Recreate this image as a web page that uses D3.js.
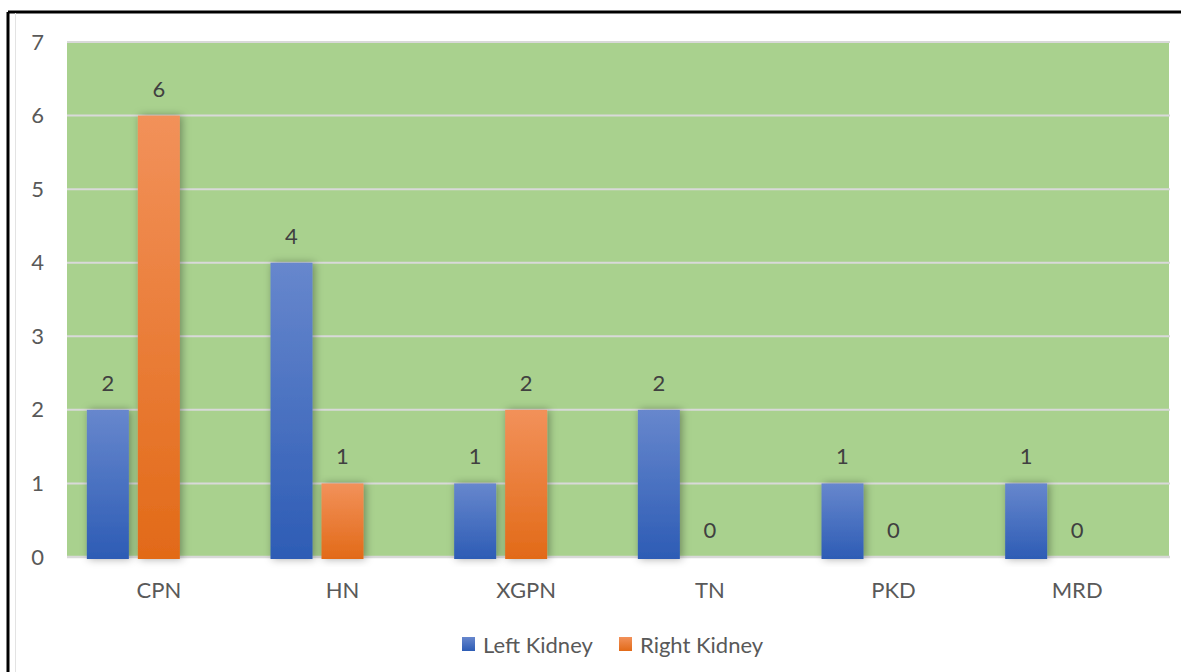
<!DOCTYPE html>
<html><head><meta charset="utf-8">
<script src="https://cdn.jsdelivr.net/npm/d3@7"></script>
<style>
html,body{margin:0;padding:0;background:#fff;}
svg{display:block;}
text{font-family:Lato,"Open Sans",sans-serif;}
</style></head>
<body>
<svg id="chart" width="1181" height="672"></svg>
<script>
const categories = ["CPN","HN","XGPN","TN","PKD","MRD"];
const seriesNames = ["Left Kidney","Right Kidney"];
const leftKidney = [2,4,1,2,1,1];
const rightKidney = [6,1,2,0,0,0];
const yTicks = [0,1,2,3,4,5,6,7];

const W = 1181, H = 672;
const svg = d3.select("#chart");
const FS = 22;

// outer border
svg.append("line").attr("x1",8).attr("x2",W).attr("y1",12).attr("y2",12).attr("stroke","#000").attr("stroke-width",3);
svg.append("line").attr("x1",8).attr("x2",8).attr("y1",12).attr("y2",H).attr("stroke","#000").attr("stroke-width",3);
svg.append("line").attr("x1",15.5).attr("x2",15.5).attr("y1",13).attr("y2",H).attr("stroke","#e3e3e3").attr("stroke-width",1);

const x0 = d3.scaleBand().domain(categories).range([67,1169]).paddingInner(0.216).paddingOuter(0.108);
const x1 = d3.scaleBand().domain(["L","R","_"]).range([0,x0.bandwidth()]).paddingInner(0.176);
const y = d3.scaleLinear().domain([0,7]).range([557,42]);

const defs = svg.append("defs");
function grad(id, top, bot){
  const g = defs.append("linearGradient").attr("id",id).attr("x1",0).attr("x2",0).attr("y1",0).attr("y2",1);
  g.append("stop").attr("offset","0%").attr("stop-color",top);
  g.append("stop").attr("offset","100%").attr("stop-color",bot);
}
grad("gBlue","#6787cd","#2d5cb5");
grad("gOrange","#f2915a","#e26a18");
const f = defs.append("filter").attr("id","shadow").attr("x","-50%").attr("y","-10%").attr("width","200%").attr("height","120%");
f.append("feDropShadow").attr("dx",2).attr("dy",0).attr("stdDeviation",4).attr("flood-color","#000").attr("flood-opacity",0.35);

// plot background
svg.append("rect").attr("x",67).attr("y",42).attr("width",1169-67).attr("height",557-42).attr("fill","#a9d18e");

// gridlines
svg.append("g").selectAll("line").data(yTicks).join("line")
  .attr("x1",67).attr("x2",1170).attr("y1",d=>y(d)).attr("y2",d=>y(d))
  .attr("stroke","#d9d9d9").attr("stroke-width",d=>d===0?2.5:2);

// y axis labels
const yAxis = d3.axisLeft(y).tickValues(yTicks).tickSize(0).tickPadding(0).tickFormat(d3.format("d"));
const ya = svg.append("g").attr("transform","translate(44,0)").call(yAxis);
ya.select(".domain").remove();
ya.selectAll("text").attr("font-size",FS).attr("fill","#595959").attr("font-family","Lato,sans-serif");

// x axis labels
const xAxis = d3.axisBottom(x0).tickSize(0).tickPadding(0);
const xa = svg.append("g").attr("transform","translate(0,582)").call(xAxis);
xa.select(".domain").remove();
xa.selectAll("text").attr("font-size",FS).attr("fill","#595959").attr("font-family","Lato,sans-serif").attr("dy","0.71em");

// bars
const rows = categories.map((c,i)=>({cat:c, vals:[{k:"L",v:leftKidney[i]},{k:"R",v:rightKidney[i]}]}));
const groups = svg.append("g").selectAll("g").data(rows).join("g").attr("transform",d=>`translate(${x0(d.cat)},0)`);
groups.selectAll("rect").data(d=>d.vals.filter(v=>v.v>0)).join("rect")
  .attr("x",d=>x1(d.k)).attr("width",x1.bandwidth())
  .attr("y",d=>y(d.v)).attr("height",d=>y(0)-y(d.v)+2)
  .attr("fill",d=>d.k==="L"?"url(#gBlue)":"url(#gOrange)")
  .attr("filter","url(#shadow)");
groups.selectAll("text").data(d=>d.vals).join("text")
  .attr("x",d=>x1(d.k)+x1.bandwidth()/2).attr("y",d=>y(d.v)-19)
  .attr("text-anchor","middle").attr("font-size",FS).attr("fill","#404040")
  .text(d=>d.v);

// legend
const legend = svg.append("g").attr("transform","translate(462,637)");
const colors = ["url(#gBlue)","url(#gOrange)"];
const lx = [0,157];
seriesNames.forEach((s,i)=>{
  legend.append("rect").attr("x",lx[i]).attr("y",0).attr("width",13).attr("height",14).attr("fill",colors[i]);
  legend.append("text").attr("x",lx[i]+21).attr("y",16).attr("font-size",FS).attr("fill","#595959").text(s);
});
</script>
</body></html>
